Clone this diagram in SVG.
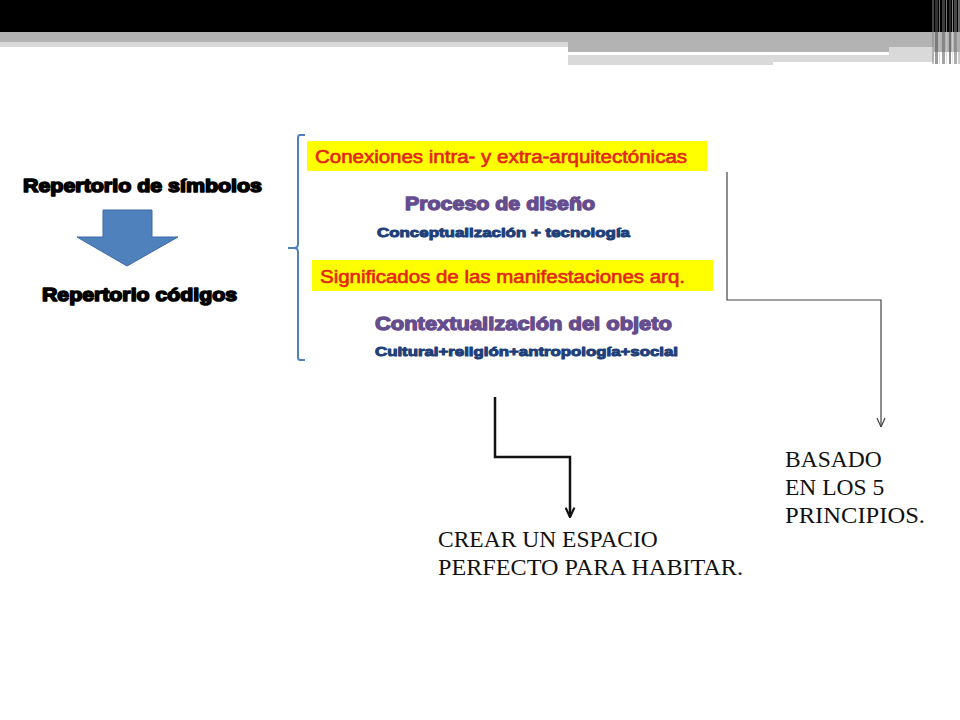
<svg xmlns="http://www.w3.org/2000/svg" width="960" height="720" viewBox="0 0 960 720">
  <defs>
    <style>
      .hdr { font-family: "Liberation Sans", Arial, sans-serif; font-weight: bold; fill: #000; stroke: #000; stroke-width: 1.6; stroke-linejoin: round; }
      .red { font-family: "Liberation Sans", Arial, sans-serif; font-size: 18px; fill: #e3261b; stroke: #e3261b; stroke-width: 0.6; }
      .pur { font-family: "Liberation Sans", Arial, sans-serif; font-weight: bold; fill: #654d8e; stroke: #654d8e; stroke-width: 1.3; stroke-linejoin: round; }
      .blu { font-family: "Liberation Sans", Arial, sans-serif; font-weight: bold; font-size: 13.5px; fill: #203f7a; stroke: #203f7a; stroke-width: 1; stroke-linejoin: round; }
      .ser { font-family: "Liberation Serif", "Times New Roman", serif; font-size: 23.5px; fill: #111; }
      .conn { fill: none; stroke-linejoin: miter; }
    </style>
    <marker id="arrThin" viewBox="0 0 10 10" refX="10" refY="5" markerWidth="10" markerHeight="10" markerUnits="userSpaceOnUse" orient="auto">
      <path d="M1,1 L10,5 L1,9" fill="none" stroke="#444" stroke-width="1.2"/>
    </marker>
    <marker id="arrThick" viewBox="0 0 10 10" refX="9.5" refY="5" markerWidth="11" markerHeight="11" markerUnits="userSpaceOnUse" orient="auto">
      <path d="M1,1 L9.5,5 L1,9" fill="none" stroke="#111" stroke-width="2"/>
    </marker>
  </defs>

  <rect width="960" height="720" fill="#fff"/>

  <!-- header bands -->
  <g id="header">
    <rect x="0" y="0" width="960" height="32" fill="#000"/>
    <rect x="0" y="32" width="960" height="10" fill="#b3b3b3"/>
    <rect x="0" y="42" width="568" height="5" fill="#d9d9d9"/>
    <rect x="568" y="42" width="392" height="10" fill="#b3b3b3"/>
    <rect x="568" y="52" width="321" height="3" fill="#ffffff"/>
    <rect x="568" y="55" width="205" height="10" fill="#d9d9d9"/>
    <rect x="773" y="55" width="116" height="7" fill="#d9d9d9"/>
    <rect x="889" y="47" width="45" height="15" fill="#d9d9d9"/>
    <rect x="932" y="0" width="2" height="64" fill="#888" opacity="0.5"/>
    <rect x="935" y="0" width="3" height="64" fill="#555" opacity="0.6"/>
    <rect x="939" y="0" width="1" height="64" fill="#bbb" opacity="0.6"/>
    <rect x="942" y="0" width="3" height="64" fill="#666" opacity="0.6"/>
    <rect x="946" y="0" width="1" height="64" fill="#ccc" opacity="0.6"/>
    <rect x="949" y="0" width="2" height="64" fill="#444" opacity="0.6"/>
    <rect x="952" y="0" width="1" height="64" fill="#ddd" opacity="0.6"/>
    <rect x="954" y="0" width="3" height="64" fill="#777" opacity="0.6"/>
    <rect x="958" y="0" width="2" height="64" fill="#aaa" opacity="0.6"/>
  </g>

  <!-- left nodes -->
  <g id="simbolos">
    <text class="hdr" x="23" y="192" font-size="19" textLength="239" lengthAdjust="spacingAndGlyphs">Repertorio de símbolos</text>
  </g>
  <g id="bigArrow">
    <polygon points="103,210 152,210 152,237 178,237 127,266 77,237 103,237" fill="#4f81bd" stroke="#3c6aa5" stroke-width="1"/>
  </g>
  <g id="codigos">
    <text class="hdr" x="42" y="301" font-size="19" textLength="195" lengthAdjust="spacingAndGlyphs">Repertorio códigos</text>
  </g>

  <!-- bracket -->
  <g id="bracket">
    <path d="M305,135 L300,135 Q298,135 298,138 L298,244 Q298,248 294,248 L288,248 M294,248 Q298,248 298,252 L298,357 Q298,360 300,360 L305,360" fill="none" stroke="#4f81bd" stroke-width="2"/>
  </g>

  <!-- list items -->
  <g id="conexiones">
    <rect x="307" y="141" width="400" height="30" fill="#ffff00"/>
    <text class="red" x="315" y="163" textLength="372" lengthAdjust="spacingAndGlyphs">Conexiones intra- y extra-arquitectónicas</text>
  </g>
  <g id="proceso">
    <text class="pur" x="405" y="210" font-size="18" textLength="190" lengthAdjust="spacingAndGlyphs">Proceso de diseño</text>
    <text class="blu" x="377" y="237" textLength="253" lengthAdjust="spacingAndGlyphs">Conceptualización + tecnología</text>
  </g>
  <g id="significados">
    <rect x="312" y="260" width="401" height="31" fill="#ffff00"/>
    <text class="red" x="320" y="283" textLength="365" lengthAdjust="spacingAndGlyphs">Significados de las manifestaciones arq.</text>
  </g>
  <g id="contexto">
    <text class="pur" x="375" y="330" font-size="18.5" textLength="297" lengthAdjust="spacingAndGlyphs">Contextualización del objeto</text>
    <text class="blu" x="375" y="356" textLength="303" lengthAdjust="spacingAndGlyphs">Cultural+religión+antropología+social</text>
  </g>

  <!-- connectors -->
  <g id="connectors">
    <polyline class="conn" points="727,172 727,300 881,300 881,427" stroke="#444" stroke-width="1.2" marker-end="url(#arrThin)"/>
    <polyline class="conn" points="495,397 495,457 570,457 570,517" stroke="#111" stroke-width="2.5" marker-end="url(#arrThick)"/>
  </g>

  <!-- result texts -->
  <g id="basado">
    <text class="ser" x="785" y="467">BASADO</text>
    <text class="ser" x="785" y="495">EN LOS 5</text>
    <text class="ser" x="785" y="523" textLength="140" lengthAdjust="spacingAndGlyphs">PRINCIPIOS.</text>
  </g>
  <g id="crear">
    <text class="ser" x="438" y="547">CREAR UN ESPACIO</text>
    <text class="ser" x="438" y="575" textLength="305" lengthAdjust="spacingAndGlyphs">PERFECTO PARA HABITAR.</text>
  </g>
</svg>
